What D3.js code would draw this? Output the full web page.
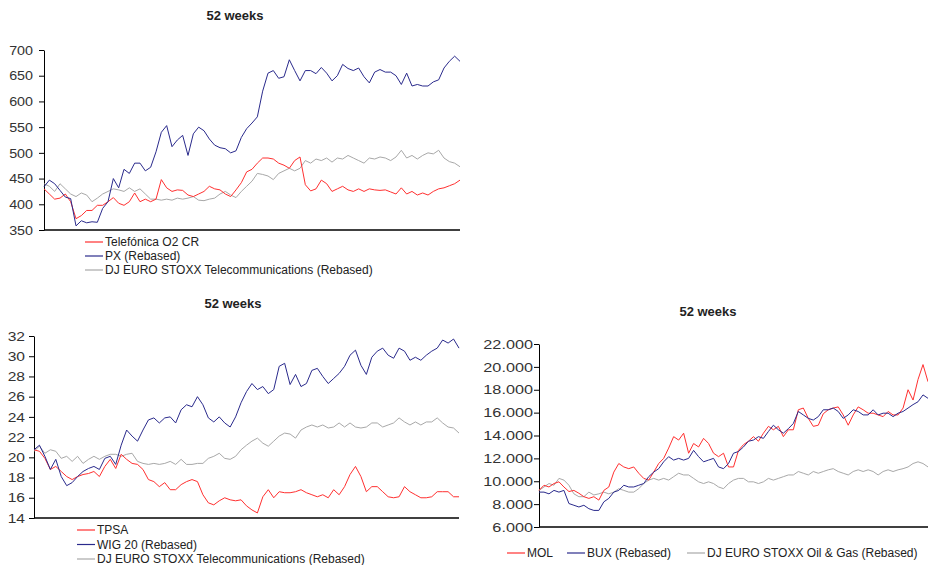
<!DOCTYPE html>
<html>
<head>
<meta charset="utf-8">
<script src="https://cdn.jsdelivr.net/npm/d3@7"></script>
<style>
  body { margin: 0; background: #fff; }
  svg { display: block; font-family: "Liberation Sans", Arial, sans-serif; }
  .tick text { fill: #333; font-size: 13px; }
  .title { font-size: 13px; font-weight: bold; fill: #222; text-anchor: middle; }
  .legend-text { font-size: 12px; fill: #222; }
</style>
</head>
<body>
<div id="chart"></div>
<script>
// Panel 1: Telefónica O2 CR vs PX, 52 weeks
const o2Values = [430,420,410,412,420,405,372,378,388,388,398,398,405,413,402,398,405,422,405,410,
  405,410,448,432,425,428,427,418,415,420,425,435,430,428,420,415,428,442,463,468,
  480,490,490,488,480,476,470,485,492,438,426,430,447,440,425,430,435,428,425,430,
  425,430,428,427,428,424,420,432,420,425,418,422,418,425,430,432,436,440,447];
const pxValues = [434,447,440,427,414,411,358,368,364,366,365,392,405,450,432,468,460,480,480,465,
  472,502,540,553,512,525,534,495,537,550,543,527,515,510,508,500,504,530,547,558,
  570,620,655,660,645,648,681,660,640,660,660,654,666,655,640,650,672,664,660,665,
  648,636,657,662,657,657,650,633,655,630,633,630,630,638,642,665,678,688,678];
const djTelecom1Values = [440,435,425,440,430,420,415,422,418,405,412,420,425,430,428,425,432,425,430,420,
  410,410,408,410,408,412,410,412,415,408,407,410,412,420,425,418,413,425,435,445,
  460,458,455,448,460,465,470,465,470,485,480,488,485,490,482,490,488,495,490,485,
  480,490,488,492,490,485,492,505,490,495,488,495,500,498,505,490,483,480,473];
const panel1Ticks = [350,400,450,500,550,600,650,700];

// Panel 2: TPSA vs WIG 20
const tpsaValues = [20.75,20.6,19.9,18.8,19.1,18.6,18.1,17.8,18.1,18.3,18.4,18.6,18.1,19.1,19.8,18.9,20.3,19.8,19.4,19.3,
  18.8,17.8,17.6,17.1,17.5,16.8,16.8,17.3,17.6,17.8,17.6,16.3,15.5,15.3,15.7,16.0,15.8,15.7,15.8,15.2,
  14.8,14.5,16.1,16.8,16.0,16.6,16.5,16.5,16.6,16.8,16.5,16.3,16.1,16.3,16.0,16.8,16.3,17.1,18.3,19.1,
  18.1,16.6,17.1,17.1,16.6,16.1,16.0,16.1,17.1,16.6,16.3,16.0,16.0,16.1,16.6,16.6,16.6,16.1,16.1];
const wig20Values = [20.75,21.2,20.1,18.8,19.8,18.1,17.2,17.5,18.1,18.6,18.9,19.1,18.8,19.9,20.1,19.3,21.2,22.7,22.1,21.6,
  22.7,23.7,23.9,23.4,23.9,24.0,23.4,24.7,25.2,25.0,26.0,25.2,23.9,23.5,24.0,23.4,23.0,24.0,25.4,26.5,
  27.3,26.7,27.0,26.3,26.7,29.0,29.3,27.2,28.2,27.0,27.3,28.6,28.8,28.0,27.3,27.8,28.3,29.0,30.1,30.6,
  29.1,28.2,29.9,30.5,30.8,30.1,29.8,30.8,30.5,29.6,29.9,29.6,30.1,30.5,30.8,31.6,31.3,31.7,30.8];
const djTelecom2Values = [20.6,21.1,20.4,20.75,20.6,19.9,20.1,19.6,20.1,19.4,19.8,20.1,19.8,20.1,20.3,20.3,20.1,20.3,20.4,19.6,
  19.4,19.3,19.4,19.3,19.4,19.6,19.3,19.8,19.3,19.3,19.4,19.4,19.9,20.1,20.4,19.9,19.8,20.1,20.75,21.2,
  21.6,21.9,21.4,21.1,21.6,22.1,22.4,22.3,21.9,22.7,23.0,23.2,23.0,23.2,22.9,23.0,23.4,23.0,23.4,23.0,
  22.9,23.0,23.4,23.4,23.0,23.2,23.4,23.9,23.5,23.2,23.5,23.2,23.5,23.5,23.9,23.4,23.0,22.9,22.4];
const panel2Ticks = [14,16,18,20,22,24,26,28,30,32];

// Panel 3: MOL vs BUX (values in thousands)
const molValues = [9.2,9.65,9.5,9.8,9.95,9.5,9.1,9.2,8.95,8.65,8.5,8.65,8.35,9.2,9.5,10.8,11.55,11.25,11.1,11.25,
  10.7,10.25,10.1,10.8,11.55,12.0,12.9,13.9,13.6,14.2,12.45,13.3,13.0,13.75,13.3,12.45,12.15,12.45,11.25,11.25,
  12.7,13.2,13.5,13.9,13.5,14.2,14.8,14.5,14.8,13.9,14.5,14.5,16.25,16.4,15.5,14.8,14.9,15.9,16.25,16.4,
  16.5,15.8,14.9,15.8,16.5,16.25,15.95,15.95,15.8,15.65,16.1,15.8,15.8,16.4,18.0,17.1,18.9,20.2,18.7];
const buxValues = [9.05,9.05,8.9,9.2,9.05,9.2,8.05,7.9,7.75,7.9,7.6,7.45,7.45,8.2,8.5,9.05,9.2,9.65,9.5,9.5,
  9.65,9.8,10.4,10.8,11.1,11.7,12.15,11.85,12.0,11.85,12.0,12.7,12.15,11.7,11.85,12.0,11.25,11.1,11.55,12.45,
  12.6,13.0,13.5,13.6,13.9,13.75,14.35,14.9,14.5,14.2,14.6,15.05,16.1,15.8,15.5,15.35,15.65,16.25,16.25,16.4,
  16.1,15.5,15.8,16.25,16.1,15.8,15.8,16.25,15.8,15.95,15.95,15.65,15.95,16.1,16.4,16.7,16.95,17.55,17.25];
const djOilGasValues = [9.2,9.5,9.8,9.65,10.25,10.1,9.65,8.9,8.65,8.65,9.05,8.8,8.9,9.05,8.9,9.05,9.35,9.2,9.05,9.05,
  9.35,9.8,10.1,10.25,10.1,10.25,10.1,10.4,10.7,10.55,10.55,10.25,9.95,9.8,9.95,9.8,9.5,9.35,9.8,10.1,
  10.25,10.25,9.95,9.95,9.8,9.95,10.25,10.1,10.25,10.4,10.55,10.55,10.85,10.7,10.55,10.85,10.7,10.85,11.0,11.1,
  10.85,10.7,10.55,10.85,11.0,10.85,11.0,10.85,10.55,10.85,11.0,10.85,11.0,11.1,11.25,11.55,11.7,11.55,11.25];
const panel3Ticks = [6,8,10,12,14,16,18,20,22];

const RED = "#ff3030", BLUE = "#2a2a8c", GRAY = "#a8a8a8";

const euroFormat = d3.formatLocale({ decimal: ",", thousands: ".", grouping: [3], currency: ["", ""] }).format(",");

const svg = d3.select("#chart")
  .append("svg")
  .attr("width", 928)
  .attr("height", 565);

function drawPanel(cfg) {
  const g = svg.append("g");

  const x = d3.scaleLinear()
    .domain([0, cfg.series[0].values.length - 1])
    .range([cfg.left, cfg.right]);

  const y = d3.scaleLinear()
    .domain(d3.extent(cfg.ticks))
    .range([cfg.bottom, cfg.top]);

  // Title
  g.append("text")
    .attr("class", "title")
    .attr("x", cfg.titleX)
    .attr("y", cfg.titleY)
    .text("52 weeks");

  // Y axis
  const yAxis = g.append("g")
    .attr("transform", `translate(${cfg.left}, 0)`)
    .call(d3.axisLeft(y)
      .tickValues(cfg.ticks)
      .tickSize(5)
      .tickSizeOuter(0)
      .tickFormat(cfg.format));
  yAxis.select(".domain").attr("stroke", "#000");
  yAxis.selectAll(".tick line").attr("stroke", "#000");
  // the original labels are drawn a little wider than Arial
  yAxis.selectAll(".tick text")
    .attr("x", 0)
    .attr("transform", `translate(${-(5 + cfg.pad)}, 0) scale(${cfg.stretch}, 1)`);

  // X axis baseline
  g.append("line")
    .attr("x1", cfg.left)
    .attr("x2", cfg.right)
    .attr("y1", cfg.bottom)
    .attr("y2", cfg.bottom)
    .attr("stroke", "#000")
    .attr("stroke-width", 1.3);

  const line = d3.line()
    .x((d, i) => x(i))
    .y(d => y(d));

  // Draw gray first, then red, blue on top
  [2, 0, 1].forEach(k => {
    const s = cfg.series[k];
    g.append("path")
      .datum(s.values)
      .attr("fill", "none")
      .attr("stroke", s.color)
      .attr("stroke-width", 1)
      .attr("d", line);
  });

  // Legend
  cfg.series.forEach((s, i) => {
    const pos = cfg.legendPos(i);
    const item = g.append("g").attr("transform", `translate(${pos[0]}, ${pos[1]})`);
    item.append("line")
      .attr("x1", 0).attr("x2", 18)
      .attr("y1", -4).attr("y2", -4)
      .attr("stroke", s.color)
      .attr("stroke-width", 1.2);
    item.append("text")
      .attr("class", "legend-text")
      .attr("x", 20)
      .attr("y", 0)
      .text(s.name);
  });
}

drawPanel({
  left: 44, right: 460, top: 50, bottom: 230,
  titleX: 235, titleY: 20,
  ticks: panel1Ticks,
  format: d3.format("d"),
  stretch: 1.1, pad: 6,
  series: [
    { name: "Telefónica O2 CR", values: o2Values, color: RED },
    { name: "PX (Rebased)", values: pxValues, color: BLUE },
    { name: "DJ EURO STOXX Telecommunications (Rebased)", values: djTelecom1Values, color: GRAY }
  ],
  legendPos: i => [85, 246 + i * 14]
});

drawPanel({
  left: 34, right: 459, top: 336, bottom: 518,
  titleX: 233, titleY: 308,
  ticks: panel2Ticks,
  format: d3.format("d"),
  stretch: 1.2, pad: 4,
  series: [
    { name: "TPSA", values: tpsaValues, color: RED },
    { name: "WIG 20 (Rebased)", values: wig20Values, color: BLUE },
    { name: "DJ EURO STOXX Telecommunications (Rebased)", values: djTelecom2Values, color: GRAY }
  ],
  legendPos: i => [77, 534 + i * 14.5]
});

drawPanel({
  left: 539, right: 928, top: 344, bottom: 527,
  titleX: 708, titleY: 316,
  ticks: panel3Ticks,
  format: v => euroFormat(v * 1000),
  stretch: 1.25, pad: 1,
  series: [
    { name: "MOL", values: molValues, color: RED },
    { name: "BUX (Rebased)", values: buxValues, color: BLUE },
    { name: "DJ EURO STOXX Oil & Gas (Rebased)", values: djOilGasValues, color: GRAY }
  ],
  legendPos: i => [[507, 567, 687][i], 557]
});
</script>
</body>
</html>
